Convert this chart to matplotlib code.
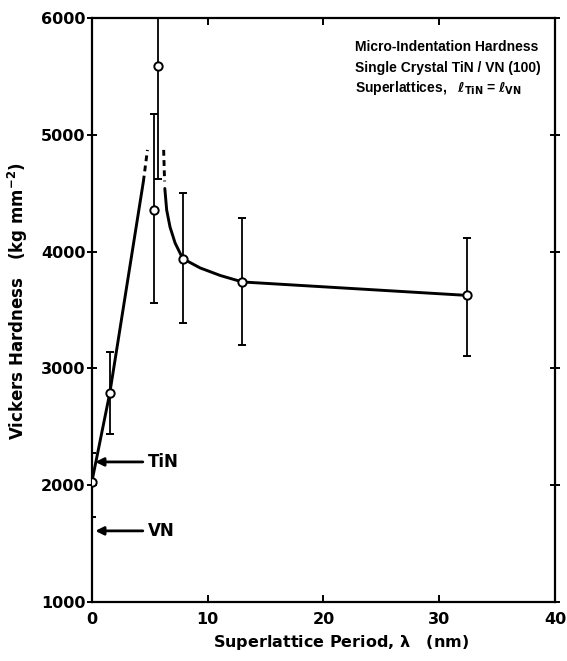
import matplotlib
matplotlib.use("Agg")
import matplotlib.pyplot as plt

plt.rcParams['font.family'] = ['DejaVu Sans']
plt.rcParams['font.weight'] = 'bold'
plt.rcParams['mathtext.fontset'] = 'dejavusans'

# measured hardness with error bars
period = [0, 1.55, 5.35, 5.7, 7.85, 13.0, 32.4]
hardness = [2030, 2790, 4360, 5590, 3940, 3740, 3625]
err_low = [1730, 2440, 3560, 4620, 3390, 3200, 3110]
err_high = [2280, 3140, 5180, 6600, 4500, 4290, 4120]

# hand-drawn trend line, rising branch
rise_x = [0, 1.55, 4.45]
rise_y = [2030, 2790, 4600]
rise_dash_x = [4.45, 4.8]
rise_dash_y = [4600, 4870]

# falling branch
fall_dash_x = [6.2, 6.28]
fall_dash_y = [4870, 4600]
fall_x = [6.3, 6.46, 6.75, 7.19, 7.85, 9.35, 11.1, 13.0, 32.4]
fall_y = [4540, 4356, 4210, 4073, 3940, 3860, 3795, 3740, 3625]

# pure-phase reference levels
tin_level = 2200
vn_level = 1610

fig = plt.figure(figsize=(5.67, 6.61), dpi=100)
ax = fig.add_axes([0.162, 0.089, 0.817, 0.884])

lw = 2.1
ax.plot(rise_x, rise_y, color='black', lw=lw, solid_capstyle='round')
ax.plot(rise_dash_x, rise_dash_y, color='black', lw=lw, linestyle=(0, (2, 1.5)))
ax.plot(fall_dash_x, fall_dash_y, color='black', lw=lw, linestyle=(0, (2, 1.5)))
ax.plot(fall_x, fall_y, color='black', lw=lw, solid_capstyle='round')

lower = [h - lo for h, lo in zip(hardness, err_low)]
upper = [hi - h for h, hi in zip(hardness, err_high)]
ax.errorbar(period, hardness, yerr=[lower, upper], fmt='o', color='black',
            mfc='white', mec='black', ms=6, mew=1.4, elinewidth=1.3,
            capsize=3, capthick=1.6, zorder=5, clip_on=True)

# arrows for TiN and VN
for level, name in [(tin_level, 'TiN'), (vn_level, 'VN')]:
    ax.annotate('', xy=(0.3, level), xytext=(4.4, level),
                arrowprops=dict(arrowstyle='-|>', color='black', lw=2,
                                mutation_scale=12, shrinkA=0, shrinkB=0))
    ax.text(4.8, level, name, fontsize=12, fontweight='bold', va='center', ha='left')

note = dict(transform=ax.transAxes, fontsize=10, fontweight='bold', va='center',
            ha='left', family=['Liberation Sans', 'DejaVu Sans'])
ax.text(0.567, 0.950, 'Micro-Indentation Hardness', **note)
ax.text(0.567, 0.914, 'Single Crystal TiN / VN (100)', **note)
ax.text(0.567, 0.880, r'Superlattices,   $\ell_{\mathbf{TiN}}$ = $\ell_{\mathbf{VN}}$', **note)

ax.set_xlim(0, 40)
ax.set_ylim(1000, 6000)
ax.set_xticks([0, 10, 20, 30, 40])
ax.set_yticks([1000, 2000, 3000, 4000, 5000, 6000])

for side in ['left', 'right', 'top', 'bottom']:
    ax.spines[side].set_linewidth(1.6)

ax.tick_params(axis='both', labelsize=11.5, width=1.4, length=5, direction='in',
               top=True, right=True)
ax.tick_params(axis='x', pad=7)
ax.tick_params(axis='y', which='both', left=True, direction='inout', length=7, pad=1)
ax.tick_params(axis='y', right=True)
for lbl in ax.get_xticklabels() + ax.get_yticklabels():
    lbl.set_fontweight('bold')

ax.set_xlabel(r'Superlattice Period, $\mathbf{\lambda}$   (nm)', fontsize=11.5,
              fontweight='bold')
ax.xaxis.set_label_coords(0.538, -0.052)
ax.set_ylabel(r'Vickers Hardness   (kg mm$^{\mathbf{-2}}$)', fontsize=12,
              fontweight='bold')
ax.yaxis.set_label_coords(-0.133, 0.515)

fig.savefig('out.png', dpi=100)
